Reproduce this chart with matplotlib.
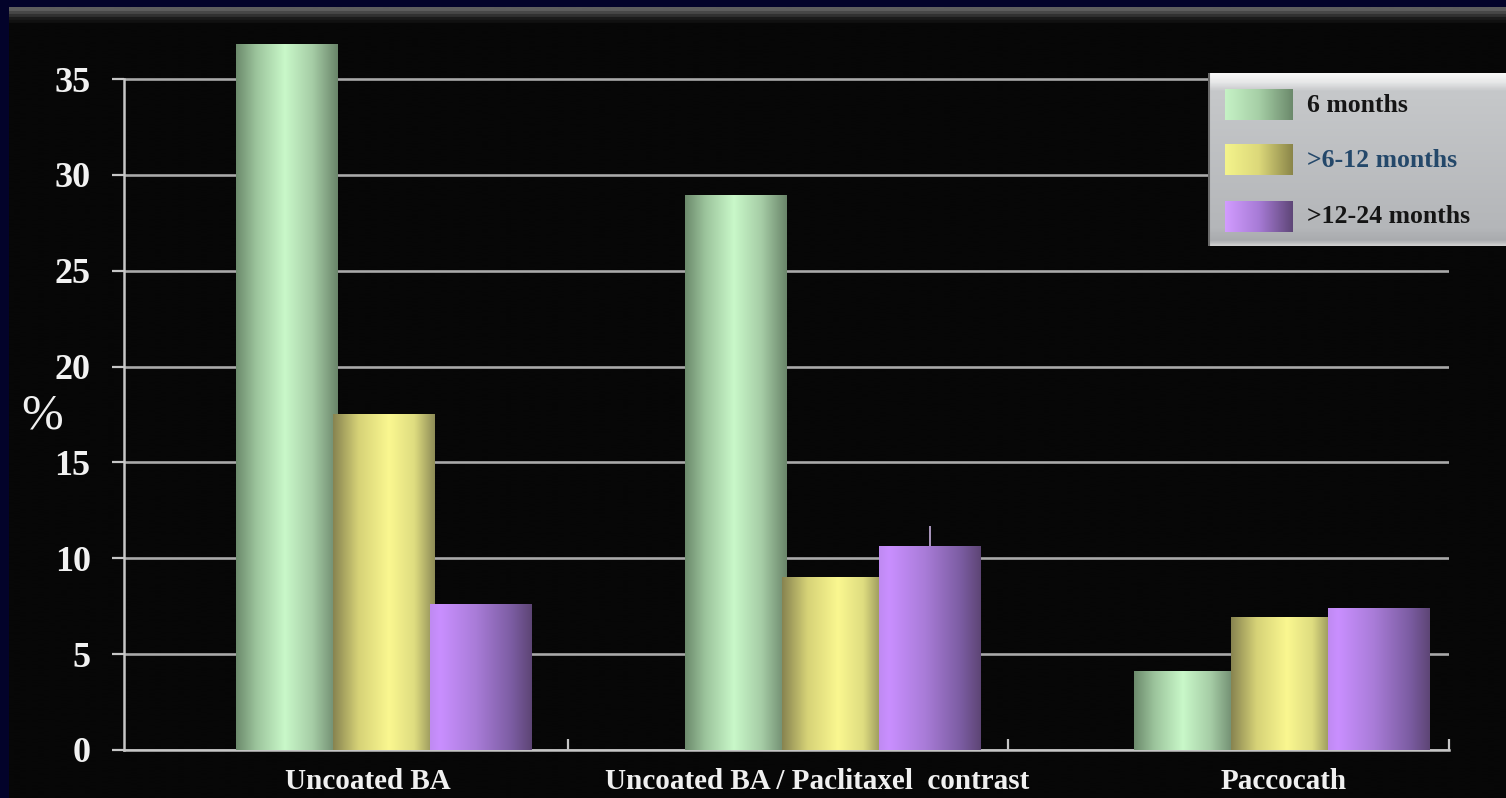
import numpy as np
import matplotlib
matplotlib.use("Agg")
import matplotlib.pyplot as plt
from matplotlib.colors import LinearSegmentedColormap

# ---- data -------------------------------------------------------------
categories = ["Uncoated BA", "Uncoated BA / Paclitaxel  contrast", "Paccocath"]
series = ["6 months", ">6-12 months", ">12-24 months"]
six_months = [36.8, 28.9, 4.1]
six_to_twelve = [17.5, 9.0, 6.9]
twelve_to_24 = [7.6, 10.6, 7.4]
upper_err_12_24 = [0.0, 1.1, 0.0]
y_ticks = [0, 5, 10, 15, 20, 25, 30, 35]
y_label = "%"

# ---- canvas -----------------------------------------------------------
W, H, DPI = 1506, 798, 100
SERIF = "Liberation Serif"
fig = plt.figure(figsize=(W / DPI, H / DPI), dpi=DPI, facecolor="#03032a")


def px_box(x0, y0, x1, y1):
    """Pixel box (top-left origin) -> figure-fraction rect."""
    return [x0 / W, 1 - y1 / H, (x1 - x0) / W, (y1 - y0) / H]


# black slide body with a faint grey band along its top edge
bg = fig.add_axes(px_box(9, 7, W, H), zorder=-5)
bg.set_axis_off()
band = LinearSegmentedColormap.from_list(
    "band", [(0, "#5e5e5e"), (0.012, "#1a1a1a"), (0.02, "#070707"), (1, "#070707")])
bg.imshow(np.linspace(0, 1, 800).reshape(-1, 1), cmap=band, aspect="auto",
          extent=[0, 1, 0, 1], origin="upper", interpolation="bilinear")
bg.set_xlim(0, 1)
bg.set_ylim(0, 1)

# ---- main chart -------------------------------------------------------
ax = fig.add_axes(px_box(124, 31.1, 1449, 750))
ax.set_facecolor("none")

bar_cmaps = [
    LinearSegmentedColormap.from_list(
        "g", [(0, "#6c8a6c"), (0.2, "#9cc49c"), (0.48, "#c9f8c9"),
              (0.75, "#a6cda6"), (1, "#6a856a")]),
    LinearSegmentedColormap.from_list(
        "y", [(0, "#878350"), (0.25, "#d6d277"), (0.55, "#faf790"),
              (0.8, "#dedc80"), (1, "#8e8c57")]),
    LinearSegmentedColormap.from_list(
        "p", [(0, "#bf8af2"), (0.1, "#c98fff"), (0.45, "#a97cd8"),
              (0.8, "#7c5da3"), (1, "#5d4575")]),
]
swatch_cmaps = [
    LinearSegmentedColormap.from_list("gs", ["#c6f2c6", "#a6cfa6", "#6b896b"]),
    LinearSegmentedColormap.from_list("ys", ["#f4f48c", "#dcd87a", "#8a8549"]),
    LinearSegmentedColormap.from_list("ps", ["#d29cff", "#a77bd6", "#5e4677"]),
]

x = np.arange(len(categories))
width = 0.225
offsets = [-0.217, 0.0, 0.217]
ramp = np.linspace(0, 1, 256).reshape(1, -1)

for vals, off, cmap in zip([six_months, six_to_twelve, twelve_to_24],
                           offsets, bar_cmaps):
    bars = ax.bar(x + off, vals, width, color="none", edgecolor="none", zorder=3)
    for b in bars:
        x0, y0 = b.get_x(), b.get_y()
        ax.imshow(ramp, cmap=cmap, aspect="auto", interpolation="bilinear",
                  extent=[x0, x0 + b.get_width(), y0, y0 + b.get_height()],
                  zorder=3)

ax.errorbar(x + offsets[2], twelve_to_24,
            yerr=[np.zeros(len(x)), upper_err_12_24], fmt="none",
            ecolor="#b7a2cc", elinewidth=1.3, capsize=0, zorder=2.5)

xmin, xmax = -0.578, 2.373
ax.set_xlim(xmin, xmax)
ax.set_ylim(0, 37.5)

# axes styling
axis_col = "#c6c6c6"
for s in ("top", "right"):
    ax.spines[s].set_visible(False)
for s in ("left", "bottom"):
    ax.spines[s].set_color(axis_col)
    ax.spines[s].set_linewidth(1.8)
ax.spines["left"].set_bounds(0, 35)

ax.set_yticks(y_ticks)
ax.set_yticklabels([str(v) for v in y_ticks])
ax.yaxis.grid(True, color="#a9a9a9", linewidth=1.9)
ax.set_axisbelow(True)
ax.tick_params(axis="y", direction="out", length=9, width=1.6, color=axis_col,
               pad=15, labelcolor="#f2f2f2", labelsize=26)

# category labels sit slightly left of the first two bar groups
ax.set_xticks(x + np.array([-0.035, -0.035, 0.005]))
ax.set_xticklabels(categories)
ax.set_xticks([0.41, 1.39, xmax], minor=True)
ax.tick_params(axis="x", which="major", length=0, pad=13,
               labelcolor="#f0f0f0", labelsize=21)
ax.tick_params(axis="x", which="minor", direction="in", length=8, width=1.6,
               color=axis_col)
for lab in ax.get_xticklabels() + ax.get_yticklabels():
    lab.set_fontfamily(SERIF)
    lab.set_fontweight("bold")

fig.text(42 / W, 1 - 416 / H, y_label, family=SERIF, fontsize=36,
         color="#f0f0f0", ha="center", va="center")

# ---- legend -----------------------------------------------------------
lg = fig.add_axes(px_box(1208, 73, 1506, 246), zorder=10)
lg.set_axis_off()
lg.set_xlim(0, 1)
lg.set_ylim(0, 1)
panel = LinearSegmentedColormap.from_list(
    "panel", [(0, "#f8f8f8"), (0.05, "#e6e7e8"), (0.1, "#c6c8ca"),
              (0.9, "#b4b6b9"), (0.97, "#a9abae"), (1, "#d0d0d0")])
lg.imshow(np.linspace(0, 1, 300).reshape(-1, 1), cmap=panel, aspect="auto",
          extent=[0, 1, 0, 1], origin="upper", interpolation="bilinear")
lg.plot([0.003, 0.003], [0, 1], color="#6a6a6a", lw=1.5)

row_y = [0.815, 0.497, 0.168]
text_cols = ["#151515", "#24486a", "#151515"]
for name, yc, cm, tc in zip(series, row_y, swatch_cmaps, text_cols):
    lg.imshow(ramp, cmap=cm, aspect="auto", interpolation="bilinear",
              extent=[0.057, 0.285, yc - 0.087, yc + 0.087])
    lg.text(0.333, yc, name, family=SERIF, fontweight="bold", fontsize=18.5,
            color=tc, ha="left", va="center")

fig.savefig("out.png", dpi=DPI, facecolor=fig.get_facecolor())
